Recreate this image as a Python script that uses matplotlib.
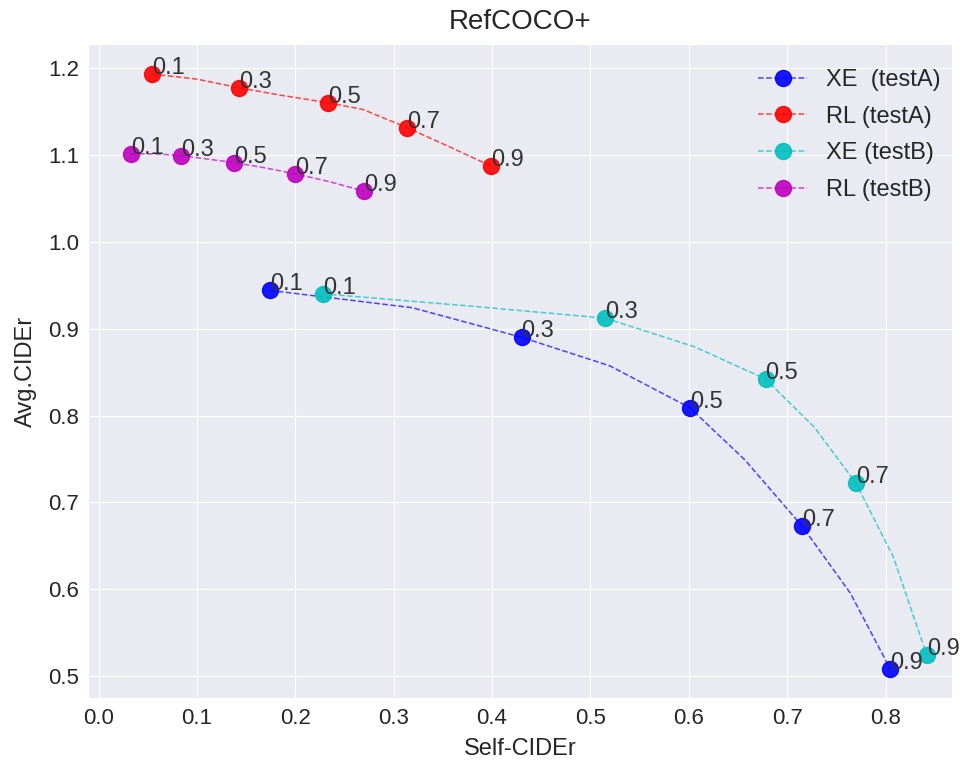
import matplotlib
matplotlib.use("Agg")
import matplotlib.pyplot as plt

plt.style.use("seaborn-v0_8-darkgrid")
plt.rcParams["font.family"] = ["Liberation Sans", "DejaVu Sans"]

# sampling temperatures, labels shown on every other point
temps = [0.1, 0.2, 0.3, 0.4, 0.5, 0.6, 0.7, 0.8, 0.9]

xe_testA_self = [0.174, 0.319, 0.430, 0.520, 0.601, 0.657, 0.715, 0.764, 0.805]
xe_testA_avg = [0.944, 0.924, 0.890, 0.857, 0.809, 0.749, 0.673, 0.596, 0.508]

rl_testA_self = [0.054, 0.100, 0.143, 0.188, 0.233, 0.269, 0.314, 0.357, 0.399]
rl_testA_avg = [1.193, 1.187, 1.177, 1.168, 1.160, 1.152, 1.131, 1.109, 1.087]

xe_testB_self = [0.228, 0.377, 0.515, 0.606, 0.678, 0.728, 0.770, 0.808, 0.842]
xe_testB_avg = [0.940, 0.926, 0.912, 0.879, 0.842, 0.786, 0.722, 0.637, 0.524]

rl_testB_self = [0.033, 0.058, 0.084, 0.111, 0.138, 0.169, 0.200, 0.235, 0.270]
rl_testB_avg = [1.101, 1.101, 1.099, 1.095, 1.091, 1.085, 1.078, 1.069, 1.058]

series = [
    ("XE  (testA)", xe_testA_self, xe_testA_avg, (0, 0, 1)),
    ("RL (testA)", rl_testA_self, rl_testA_avg, (1, 0, 0)),
    ("XE (testB)", xe_testB_self, xe_testB_avg, (0, 0.75, 0.75)),
    ("RL (testB)", rl_testB_self, rl_testB_avg, (0.75, 0, 0.75)),
]

fig = plt.figure(figsize=(9.64, 7.67), dpi=100)
ax = fig.add_axes([0.092, 0.09, 0.896, 0.851])

marked = [0, 2, 4, 6, 8]
for name, xs, ys, c in series:
    ax.plot(xs, ys, linestyle="--", linewidth=1.1, color=c + (0.7,),
            marker="o", markersize=11.5, markevery=marked,
            markerfacecolor=c + (0.9,), markeredgecolor=c + (0.9,), label=name)
    for i in marked:
        ax.annotate(f"{temps[i]:.1f}", (xs[i], ys[i]), fontsize=17, color="#333333")

ax.set_xlim(-0.01, 0.868)
ax.set_ylim(0.475, 1.226)
ax.set_xticks([0.0, 0.1, 0.2, 0.3, 0.4, 0.5, 0.6, 0.7, 0.8])
ax.set_yticks([0.5, 0.6, 0.7, 0.8, 0.9, 1.0, 1.1, 1.2])
ax.tick_params(axis="both", labelsize=16, pad=7)
ax.set_xlabel("Self-CIDEr", fontsize=17, labelpad=7)
ax.set_ylabel("Avg.CIDEr", fontsize=17, labelpad=8)
ax.set_title("RefCOCO+", fontsize=20, pad=12)
ax.legend(loc="upper right", bbox_to_anchor=(1.014, 1.0), fontsize=17,
          handlelength=2.1, labelspacing=0.62, borderaxespad=0.6)

fig.savefig("out.png", dpi=100)
